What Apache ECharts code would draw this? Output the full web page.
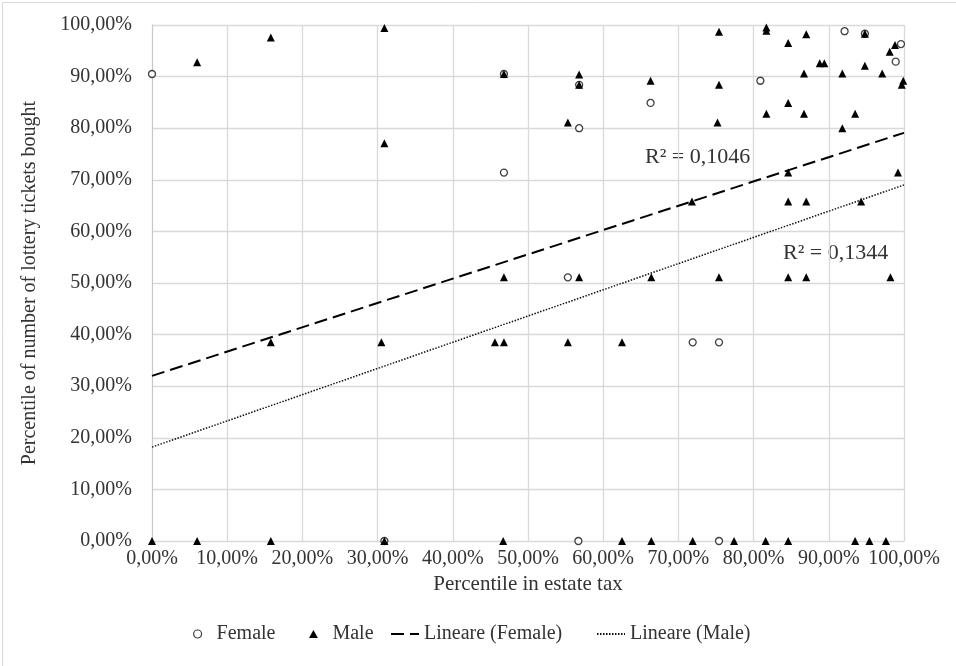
<!DOCTYPE html>
<html>
<head>
<meta charset="utf-8">
<script src="https://cdn.jsdelivr.net/npm/echarts@6/dist/echarts.min.js"></script>
<style>
html,body{margin:0;padding:0;background:#fff;}
#chart{width:956px;height:666px;}
</style>
</head>
<body>
<div id="chart"></div>
<script>
// Female points: [percentile in estate tax, percentile of lottery tickets]
var femalePoints = [
  [0, 90.5], [46.8, 90.5], [56.8, 88.4], [66.3, 84.9], [56.8, 80.0], [46.8, 71.4],
  [92.1, 98.8], [94.8, 98.3], [99.6, 96.3], [98.9, 92.9], [80.9, 89.2],
  [55.3, 51.1], [71.9, 38.5], [75.4, 38.5], [30.9, 0], [56.7, 0], [75.4, 0]
];
// Male points
var malePoints = [
  [6.0, 92.8], [15.8, 97.6], [30.9, 99.4], [30.9, 77.1], [46.8, 90.5], [56.8, 90.4],
  [56.8, 88.4], [66.3, 89.2], [55.3, 81.1], [75.4, 98.7], [81.7, 99.5], [81.7, 98.9],
  [87.0, 98.2], [94.8, 98.3], [84.6, 96.5], [98.8, 96.1], [98.1, 94.8], [88.8, 92.6],
  [89.4, 92.6], [94.8, 92.1], [86.7, 90.6], [91.8, 90.6], [97.1, 90.6], [99.9, 89.2],
  [99.7, 88.4], [75.4, 88.4], [84.6, 84.9], [81.7, 82.8], [86.7, 82.8], [93.5, 82.8],
  [75.2, 81.1], [91.8, 80.0], [84.6, 71.4], [99.2, 71.4], [71.8, 65.8], [84.6, 65.8],
  [87.0, 65.8], [94.3, 65.8], [46.8, 51.1], [56.8, 51.1], [66.4, 51.1], [75.4, 51.1],
  [84.6, 51.1], [87.0, 51.1], [98.2, 51.1], [15.8, 38.5], [30.5, 38.5], [45.6, 38.5],
  [46.8, 38.5], [55.3, 38.5], [62.5, 38.5], [0, 0], [6.0, 0], [15.8, 0], [30.9, 0],
  [46.7, 0], [62.5, 0], [66.4, 0], [71.9, 0], [77.4, 0], [81.6, 0], [84.6, 0],
  [93.5, 0], [95.4, 0], [97.6, 0]
];
// Linear trend lines (endpoints as shown in the chart)
var femaleTrend = [[0, 32.0], [100, 79.1]];
var maleTrend = [[0, 18.2], [100, 69.0]];
var femaleR2 = 'R² = 0,1046';
var maleR2 = 'R² = 0,1344';
var xTitle = 'Percentile in estate tax';
var yTitle = 'Percentile of number of lottery tickets bought';
var seriesNames = ['Female', 'Male', 'Lineare (Female)', 'Lineare (Male)'];

var FONT = '"Liberation Serif", "DejaVu Serif", serif';
var TXT = '#333';
function pct(v) { return v.toFixed(2).replace('.', ',') + '%'; }

var legendItems = [
  { name: seriesNames[0], icon: 'path://M5,0 A5,5 0 1,1 4.99,0 Z',
    itemStyle: { color: '#fff', borderColor: '#404040', borderWidth: 1.2 } },
  { name: seriesNames[1], icon: 'path://M0,9 L5,0 L10,9 Z', itemStyle: { color: '#000' } },
  { name: seriesNames[2], itemStyle: { opacity: 0 } },
  { name: seriesNames[3], itemStyle: { opacity: 0 } }
];
var legendLeft = [193, 309, 390, 596];
var legends = legendItems.map(function (it, i) {
  return {
    left: legendLeft[i], top: 624,
    itemWidth: 28, itemHeight: 8, itemGap: 0,
    symbolKeepAspect: true, padding: 0,
    textStyle: { fontFamily: FONT, fontSize: 20, color: TXT },
    data: [it]
  };
});

var chart = echarts.init(document.getElementById('chart'));
chart.setOption({
  backgroundColor: '#fff',
  animation: false,
  textStyle: { fontFamily: FONT, color: TXT },
  grid: { left: 152, right: 52, top: 25, bottom: 125 },
  xAxis: {
    type: 'value', min: 0, max: 100, interval: 10,
    name: xTitle, nameLocation: 'middle', nameGap: 25,
    nameTextStyle: { fontFamily: FONT, fontSize: 21, color: TXT },
    axisLine: { show: true, onZero: false, lineStyle: { color: '#d9d9d9', width: 1 } },
    axisTick: { show: false },
    axisLabel: { formatter: pct, fontFamily: FONT, fontSize: 20, color: TXT, margin: 8 },
    splitLine: { show: true, lineStyle: { color: '#d9d9d9', width: 1.3 } }
  },
  yAxis: {
    type: 'value', min: 0, max: 100, interval: 10,
    name: yTitle, nameLocation: 'middle', nameGap: 112,
    nameTextStyle: { fontFamily: FONT, fontSize: 20, color: TXT },
    axisLine: { show: true, lineStyle: { color: '#c8c8c8', width: 1 } },
    axisTick: { show: false },
    axisLabel: { formatter: pct, fontFamily: FONT, fontSize: 20, color: TXT, margin: 20 },
    splitLine: { show: true, lineStyle: { color: '#d9d9d9', width: 1.3 } }
  },
  legend: legends,
  series: [
    {
      name: seriesNames[0], type: 'scatter', data: femalePoints,
      symbol: 'circle', symbolSize: 7, z: 3,
      itemStyle: { color: '#fff', borderColor: '#404040', borderWidth: 1.3, opacity: 1 }
    },
    {
      name: seriesNames[1], type: 'scatter', data: malePoints,
      symbol: 'triangle', symbolSize: 8, z: 4,
      itemStyle: { color: '#000', opacity: 1 }
    },
    {
      name: seriesNames[2], type: 'line', data: femaleTrend,
      symbol: 'none', z: 5,
      lineStyle: { color: '#000', width: 2, type: [13, 6] },
      itemStyle: { color: '#000' }
    },
    {
      name: seriesNames[3], type: 'line', data: maleTrend,
      symbol: 'none', z: 5,
      lineStyle: { color: '#111', width: 1.5, type: [1.5, 1.5] },
      itemStyle: { color: '#111' }
    }
  ],
  graphic: [
    { type: 'rect', left: 0, top: 0, shape: { x: 0.5, y: 0.5, width: 955, height: 665 },
      style: { fill: 'none', stroke: '#d9d9d9', lineWidth: 1 }, silent: true },
    { type: 'text', left: 645, top: 146, style: { text: femaleR2, font: '22px ' + FONT, fill: TXT } },
    { type: 'text', left: 783, top: 242, style: { text: maleR2, font: '22px ' + FONT, fill: TXT } }
  ]
});
</script>
</body>
</html>
